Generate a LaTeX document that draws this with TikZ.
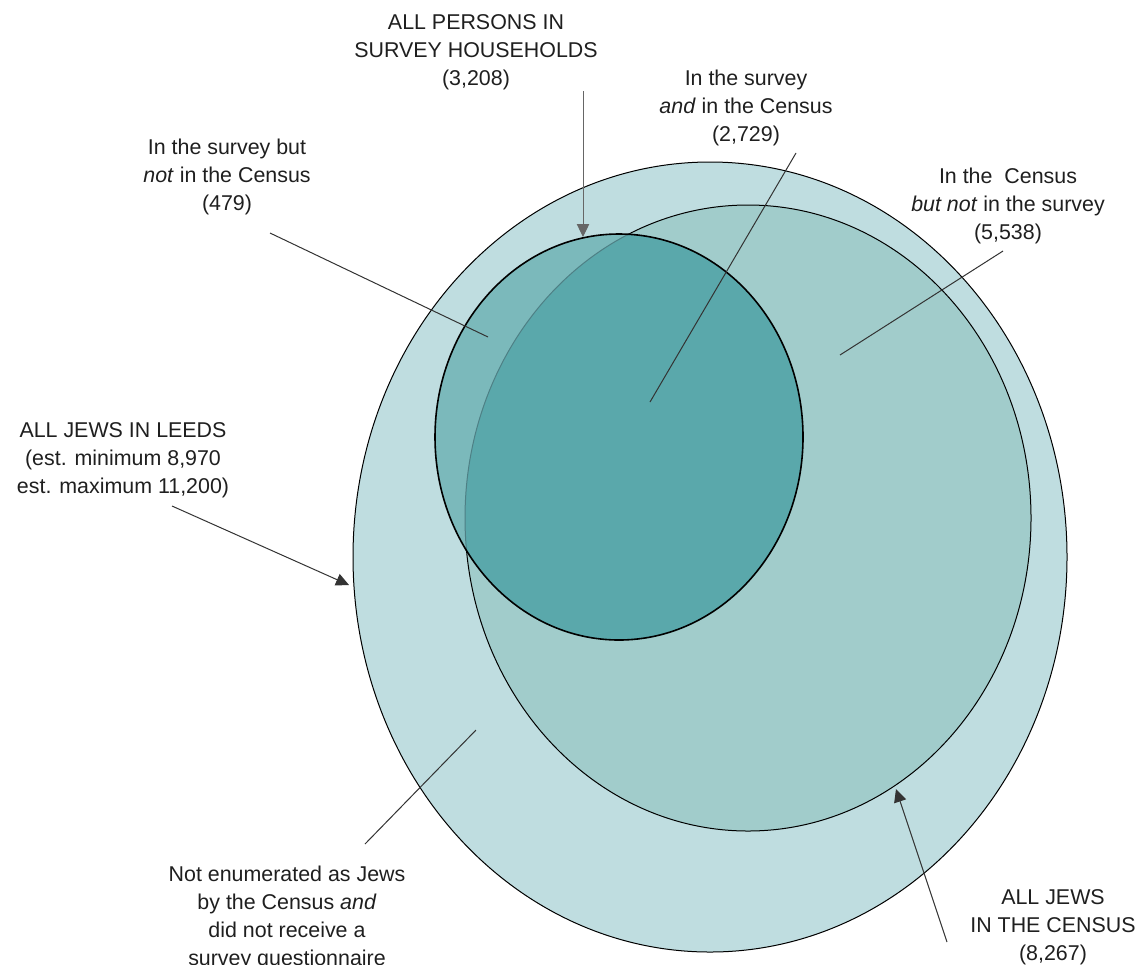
\documentclass[tikz,border=0pt]{standalone}
\usepackage{fontspec}
\setmainfont{Liberation Sans}
\usetikzlibrary{arrows.meta}
\definecolor{leedsfill}{RGB}{191,221,224}
\definecolor{censusfill}{RGB}{161,204,203}
\definecolor{surveyfill}{RGB}{123,185,187}
\definecolor{bothfill}{RGB}{90,168,171}
\definecolor{innerrim}{RGB}{78,128,133}
\newcommand{\labelfont}{\fontsize{10.7}{14}\selectfont}

\begin{document}
\begin{tikzpicture}[x=0.5pt,y=-0.5pt,
  lbl/.style={align=center,font=\labelfont,inner sep=0pt,text=black!88},
  leader/.style={draw=black!80,line width=0.5pt},
  pointer/.style={leader,-{Triangle[length=6.5pt,width=6.2pt]}}]

\useasboundingbox (0,0) rectangle (1138,964);

% the three sets
\draw[fill=leedsfill,line width=0.5pt] (710,557) ellipse [x radius=357, y radius=395];
\draw[fill=censusfill,line width=0.5pt] (748,518) ellipse [x radius=283, y radius=313];
\fill[surveyfill] (619,437) ellipse [x radius=184, y radius=203];
\begin{scope}
  \clip (748,518) ellipse [x radius=283, y radius=313];
  \fill[bothfill] (619,437) ellipse [x radius=184, y radius=203];
\end{scope}
\begin{scope}
  \clip (619,437) ellipse [x radius=184, y radius=203];
  \draw[innerrim,line width=0.5pt] (748,518) ellipse [x radius=283, y radius=313];
\end{scope}
\draw[line width=0.8pt] (619,437) ellipse [x radius=184, y radius=203];

% labels
\node[lbl] (persons) at (476,52) {ALL PERSONS IN\\SURVEY HOUSEHOLDS\\(3,208)};
\node[lbl] (both) at (746,108) {In the survey\\\textit{and} in the Census\\(2,729)};
\node[lbl] (surveyonly) at (227,177) {In the survey but\\\textit{not} in the Census\\(479)};
\node[lbl] (censusonly) at (1008,206) {In the \ Census\\\textit{but not} in the survey\\(5,538)};
\node[lbl] (leeds) at (123,460) {ALL JEWS IN LEEDS\\(est. minimum 8,970\\est. maximum 11,200)};
\node[lbl] (neither) at (287,918) {Not enumerated as Jews\\by the Census \textit{and}\\did not receive a\\survey questionnaire};
\node[lbl] (census) at (1053,927) {ALL JEWS\\IN THE CENSUS\\(8,267)};

% leader ends
\coordinate (personsFoot) at (583,91);   \coordinate (personsTip) at (583,237);
\coordinate (bothFoot) at (796,153);     \coordinate (bothEnd) at (650,402);
\coordinate (surveyFoot) at (270,233);   \coordinate (surveyEnd) at (488,337);
\coordinate (censusFoot) at (1003,251);  \coordinate (censusEnd) at (840,355);
\coordinate (leedsFoot) at (172,506);    \coordinate (leedsTip) at (349,585);
\coordinate (neitherFoot) at (365,844);  \coordinate (neitherEnd) at (476,730);
\coordinate (allFoot) at (947,942);      \coordinate (allTip) at (896,789);

\draw[pointer,draw=black!60] (personsFoot) -- (personsTip);
\draw[leader] (bothFoot) -- (bothEnd);
\draw[leader] (surveyFoot) -- (surveyEnd);
\draw[leader] (censusFoot) -- (censusEnd);
\draw[pointer] (leedsFoot) -- (leedsTip);
\draw[leader] (neitherFoot) -- (neitherEnd);
\draw[pointer] (allFoot) -- (allTip);
\end{tikzpicture}
\end{document}
